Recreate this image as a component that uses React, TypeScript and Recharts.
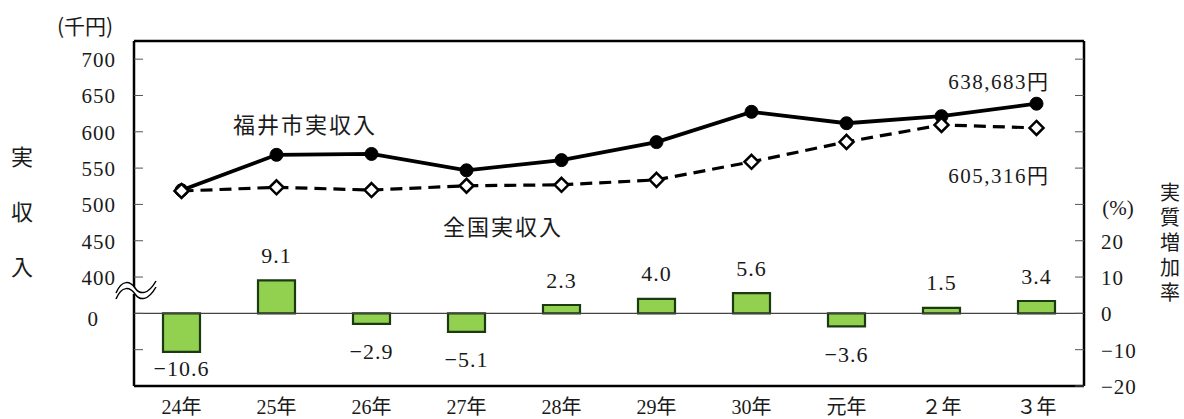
import React from 'react';
import { ComposedChart, Bar, Line, XAxis, YAxis, ReferenceLine, LabelList } from 'recharts';

const years = ['24年', '25年', '26年', '27年', '28年', '29年', '30年', '元年', '２年', '３年'];
// 実収入 (千円)
const fukuiIncome = [519.5, 568.3, 569.5, 547.0, 561.0, 585.8, 627.5, 611.8, 621.5, 638.683];
const nationalIncome = [518.5, 523.6, 519.8, 525.7, 527.0, 533.8, 558.7, 586.1, 609.5, 605.316];
// 実質増加率 (%)
const realGrowth = [-10.6, 9.1, -2.9, -5.1, 2.3, 4.0, 5.6, -3.6, 1.5, 3.4];

const leftTicks = [300, 350, 400, 450, 500, 550, 600, 650, 700];
const rightTicks = [-20, -10, 0, 10, 20, 30, 40, 50, 60, 70];

const FONT = "Liberation Serif, Times New Roman, DejaVu Serif, Noto Sans CJK JP, serif";
const CJK = "Noto Sans CJK JP, sans-serif";
const INK = '#1a1a1a';

const chartData = years.map((year, i) => ({
  year,
  fukui: fukuiIncome[i],
  national: nationalIncome[i],
  growth: realGrowth[i],
}));

const minus = (s: string) => s.replace('-', '−');

const LeftTick = (props: any) => {
  const { x, y, payload } = props;
  const v = payload.value;
  if (v === 300) return <g />;
  // 350 is where the broken axis shows 0
  const isZero = v === 350;
  return (
    <text x={isZero ? x - 17 : x} y={y + (isZero ? 6 : 1)} dominantBaseline="central" textAnchor="end"
      style={{ fontFamily: FONT }} fontSize={21} letterSpacing={1} fill={INK}>
      {isZero ? '0' : v}
    </text>
  );
};

const RightTick = (props: any) => {
  const { x, y, payload } = props;
  const v = payload.value;
  if (v > 20) return <g />;
  return (
    <text x={x} y={y + 1} dominantBaseline="central" textAnchor="start"
      style={{ fontFamily: FONT }} fontSize={21} letterSpacing={1} fill={INK}>
      {minus(String(v))}
    </text>
  );
};

const YearTick = (props: any) => {
  const { x, y, payload } = props;
  return (
    <text x={x} y={y + 19} dominantBaseline="central" textAnchor="middle"
      style={{ fontFamily: FONT }} fontSize={20} fill={INK}>
      {payload.value}
    </text>
  );
};

const Diamond = (props: any) => {
  const { cx, cy } = props;
  if (cx == null || cy == null) return <g />;
  const r = 7;
  return (
    <polygon points={`${cx},${cy - r} ${cx + r},${cy} ${cx},${cy + r} ${cx - r},${cy}`}
      fill="#fff" stroke="#000" strokeWidth={2.5} />
  );
};

const yen = (v: number) => `${Math.round(v * 1000).toLocaleString('en-US')}円`;

const FukuiEnd = (props: any) => {
  const { x, y, index } = props;
  if (index !== fukuiIncome.length - 1) return <g />;
  return (
    <text x={x + 13} y={y - 22} dominantBaseline="central" textAnchor="end"
      style={{ fontFamily: FONT }} fontSize={21} letterSpacing={1.5} fill={INK}>
      {yen(fukuiIncome[index])}
    </text>
  );
};

const NationalEnd = (props: any) => {
  const { x, y, index } = props;
  if (index !== nationalIncome.length - 1) return <g />;
  return (
    <text x={x + 13} y={y + 48} dominantBaseline="central" textAnchor="end"
      style={{ fontFamily: FONT }} fontSize={21} letterSpacing={1.5} fill={INK}>
      {yen(nationalIncome[index])}
    </text>
  );
};

const GrowthLabel = (props: any) => {
  const { x, y, width, height, value } = props;
  const top = Math.min(y, y + height);
  const bottom = Math.max(y, y + height);
  const cx = x + width / 2;
  const ty = value >= 0 ? top - 25 : Math.min(bottom + 28, 368);
  return (
    <text x={cx} y={ty} dominantBaseline="central" textAnchor="middle"
      style={{ fontFamily: FONT }} fontSize={22} letterSpacing={1} fill={INK}>
      {minus(value.toFixed(1))}
    </text>
  );
};

export default function App() {
  return (
    <div style={{ position: 'absolute', left: 0, top: 0, width: 1184, height: 419, background: '#fff' }}>
      <ComposedChart width={1184} height={419} data={chartData}
        margin={{ top: 41, right: 0, bottom: 0, left: 0 }}>
        <XAxis dataKey="year" height={33} tick={<YearTick />} tickLine={false} tickSize={0}
          axisLine={{ stroke: '#000', strokeWidth: 2.5 }} interval={0} />
        <YAxis yAxisId="left" orientation="left" width={134} domain={[250, 725]} ticks={leftTicks}
          allowDataOverflow tick={<LeftTick />} tickSize={-9} tickMargin={27}
          tickLine={{ stroke: '#555', strokeWidth: 1 }} axisLine={{ stroke: '#000', strokeWidth: 2.5 }} />
        <YAxis yAxisId="right" orientation="right" width={100} domain={[-20, 75]} ticks={rightTicks}
          allowDataOverflow tick={<RightTick />} tickSize={-9} tickMargin={26}
          tickLine={{ stroke: '#555', strokeWidth: 1 }} axisLine={{ stroke: '#000', strokeWidth: 2.5 }} />
        <ReferenceLine yAxisId="left" y={725} stroke="#000" strokeWidth={2.5} />
        <ReferenceLine yAxisId="right" y={0} stroke="#444" strokeWidth={1.2} />
        <Bar yAxisId="right" dataKey="growth" barSize={37} fill="#92d050" stroke="#1c3a12" strokeWidth={2.2}
          isAnimationActive={false}>
          <LabelList dataKey="growth" content={<GrowthLabel />} />
        </Bar>
        <Line yAxisId="left" dataKey="fukui" stroke="#000" strokeWidth={3.8}
          dot={{ r: 6.5, fill: '#000', stroke: '#000', strokeWidth: 1 }} isAnimationActive={false}>
          <LabelList dataKey="fukui" content={<FukuiEnd />} />
        </Line>
        <Line yAxisId="left" dataKey="national" stroke="#000" strokeWidth={3.2} strokeDasharray="12 7"
          dot={<Diamond />} isAnimationActive={false}>
          <LabelList dataKey="national" content={<NationalEnd />} />
        </Line>
      </ComposedChart>
      <svg width={1184} height={419} style={{ position: 'absolute', left: 0, top: 0, pointerEvents: 'none' }}>
        <text x={85} y={25} dominantBaseline="central" textAnchor="middle" style={{ fontFamily: CJK }} fontSize={21} fill={INK}>(千円)</text>
        <text x={22} y={146} style={{ fontFamily: CJK, writingMode: 'vertical-rl' }} fontSize={22} letterSpacing={33} fill={INK}>実収入</text>
        <text x={233} y={123} dominantBaseline="central" style={{ fontFamily: CJK }} fontSize={22} letterSpacing={2} fill={INK}>福井市実収入</text>
        <text x={443} y={225} dominantBaseline="central" style={{ fontFamily: CJK }} fontSize={22} letterSpacing={2} fill={INK}>全国実収入</text>
        <text x={1118} y={208} dominantBaseline="central" textAnchor="middle" style={{ fontFamily: FONT }} fontSize={21} fill={INK}>(%)</text>
        <text x={1170} y={182} style={{ fontFamily: CJK, writingMode: 'vertical-rl' }} fontSize={20} letterSpacing={5} fill={INK}>実質増加率</text>
        {/* axis break mark */}
        <path d="M 116 293 C 122 279, 130 281, 135 288 S 148 295, 156 281 L 156 287 C 148 301, 141 294, 135 294 S 122 285, 116 299 Z" fill="#fff" stroke="none" />
        <path d="M 116 293 C 122 279, 130 281, 135 288 S 148 295, 156 281" fill="none" stroke="#000" strokeWidth={1.5} />
        <path d="M 116 299 C 122 285, 130 287, 135 294 S 148 301, 156 287" fill="none" stroke="#000" strokeWidth={1.5} />
      </svg>
    </div>
  );
}
